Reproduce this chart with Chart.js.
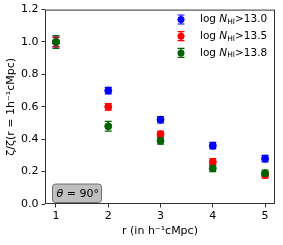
<!DOCTYPE html>
<html>
<head>
<meta charset="utf-8">
<script src="https://cdn.jsdelivr.net/npm/chart.js@4"></script>
<style>
  html, body { margin: 0; padding: 0; background: #fff; }
  #wrap { width: 283px; height: 245px; }
</style>
</head>
<body>
<div id="wrap"><canvas id="chart" width="283" height="245"></canvas></div>
<script>
// separations r (h^-1 cMpc)
var rValues = [1, 2, 3, 4, 5];
var xTicks = [1, 2, 3, 4, 5];
var yTicks = [0.0, 0.2, 0.4, 0.6, 0.8, 1.0, 1.2];

var labels = ["13.0", "13.5", "13.8"];
var colors = ["#0000ff", "#ff0000", "#006400"];

var zeta130 = [1.00, 0.70, 0.52, 0.36, 0.28];
var err130 = [0.03, 0.02, 0.02, 0.02, 0.02];
var zeta135 = [1.00, 0.60, 0.43, 0.26, 0.18];
var err135 = [0.03, 0.02, 0.02, 0.02, 0.02];
var zeta138 = [1.00, 0.48, 0.39, 0.22, 0.19];
var err138 = [0.04, 0.03, 0.02, 0.02, 0.02];

var series = [zeta130, zeta135, zeta138];
var errors = [err130, err135, err138];

var FONT = "DejaVu Sans";
var AXIS = "#333";

function points(vals) {
  return rValues.map(function (r, i) { return { x: r, y: vals[i] }; });
}

var datasets = series.map(function (vals, k) {
  return {
    label: "log N_HI>" + labels[k],
    data: points(vals),
    backgroundColor: colors[k],
    borderColor: colors[k],
    pointRadius: 3.5,
    pointHoverRadius: 3.5,
    showLine: false,
    order: series.length - k  // later series drawn on top
  };
});

// error bars, drawn through the scales
var errorBars = {
  id: "errorBars",
  beforeDatasetsDraw: function (chart) {
    var ctx = chart.ctx, xs = chart.scales.x, ys = chart.scales.y;
    ctx.save();
    ctx.lineWidth = 1.2;
    series.forEach(function (vals, k) {
      ctx.strokeStyle = colors[k];
      vals.forEach(function (v, i) {
        var px = xs.getPixelForValue(rValues[i]);
        var top = ys.getPixelForValue(v + errors[k][i]);
        var bot = ys.getPixelForValue(v - errors[k][i]);
        ctx.beginPath();
        ctx.moveTo(px, top); ctx.lineTo(px, bot);
        ctx.moveTo(px - 3.5, top); ctx.lineTo(px + 3.5, top);
        ctx.moveTo(px - 3.5, bot); ctx.lineTo(px + 3.5, bot);
        ctx.stroke();
      });
    });
    ctx.restore();
  },
  afterDraw: function (chart) {
    var ctx = chart.ctx, a = chart.chartArea;
    ctx.save();
    // frame
    ctx.strokeStyle = AXIS;
    ctx.lineWidth = 1;
    ctx.strokeRect(a.left + 0.5, a.top + 0.5, a.right - a.left - 1, a.bottom - a.top - 1);

    // legend
    ctx.textBaseline = "middle";
    labels.forEach(function (lab, k) {
      var y = 19.5 + k * 16.7, x = 181;
      ctx.strokeStyle = colors[k];
      ctx.fillStyle = colors[k];
      ctx.lineWidth = 1.2;
      ctx.beginPath();
      ctx.moveTo(x, y - 4.5); ctx.lineTo(x, y + 4.5);
      ctx.moveTo(x - 3.5, y - 4.5); ctx.lineTo(x + 3.5, y - 4.5);
      ctx.moveTo(x - 3.5, y + 4.5); ctx.lineTo(x + 3.5, y + 4.5);
      ctx.stroke();
      ctx.beginPath();
      ctx.arc(x, y, 3.5, 0, Math.PI * 2);
      ctx.fill();

      ctx.fillStyle = "#000";
      var tx = 200;
      ctx.font = "10.5px " + FONT;
      ctx.fillText("log ", tx, y);
      tx += ctx.measureText("log ").width;
      ctx.font = "italic 10.5px " + FONT;
      ctx.fillText("N", tx, y);
      tx += ctx.measureText("N").width;
      ctx.font = "7.5px " + FONT;
      ctx.fillText("HI", tx, y + 2.5);
      tx += ctx.measureText("HI").width;
      ctx.font = "10.5px " + FONT;
      ctx.fillText(">" + lab, tx, y);
    });

    // theta box
    var bx = 52.5, by = 184, bw = 49, bh = 18.5, r = 3;
    ctx.beginPath();
    ctx.moveTo(bx + r, by);
    ctx.arcTo(bx + bw, by, bx + bw, by + bh, r);
    ctx.arcTo(bx + bw, by + bh, bx, by + bh, r);
    ctx.arcTo(bx, by + bh, bx, by, r);
    ctx.arcTo(bx, by, bx + bw, by, r);
    ctx.closePath();
    ctx.fillStyle = "#bfbfbf";
    ctx.fill();
    ctx.strokeStyle = "#555";
    ctx.lineWidth = 0.8;
    ctx.stroke();
    ctx.fillStyle = "#000";
    ctx.textBaseline = "middle";
    ctx.font = "italic 11px " + FONT;
    ctx.fillText("θ", bx + 4, by + bh / 2 + 0.5);
    var w = ctx.measureText("θ").width;
    ctx.font = "11px " + FONT;
    ctx.fillText(" = 90°", bx + 4 + w, by + bh / 2 + 0.5);
    ctx.restore();
  }
};

new Chart(document.getElementById("chart").getContext("2d"), {
  type: "scatter",
  data: { datasets: datasets },
  options: {
    responsive: false,
    animation: false,
    events: [],
    layout: { padding: { top: 5, right: 8, left: 0, bottom: 0 } },
    plugins: { legend: { display: false }, tooltip: { enabled: false } },
    scales: {
      x: {
        type: "linear",
        min: 0.79,
        max: 5.19,
        afterBuildTicks: function (s) { s.ticks = xTicks.map(function (v) { return { value: v }; }); },
        afterFit: function (s) { s.height = 41; },
        grid: { drawOnChartArea: false, drawTicks: true, tickLength: 3.5, color: AXIS, lineWidth: 1 },
        border: { display: false },
        ticks: { color: "#000", font: { family: FONT, size: 11 }, padding: 2, maxRotation: 0 },
        title: { display: true, text: "r (in h⁻¹cMpc)", color: "#000", font: { family: FONT, size: 11 }, padding: { top: 1, bottom: 7 } }
      },
      y: {
        min: 0,
        max: 1.2,
        afterBuildTicks: function (s) { s.ticks = yTicks.map(function (v) { return { value: v }; }); },
        afterFit: function (s) { s.width = 45; },
        grid: { drawOnChartArea: false, drawTicks: true, tickLength: 3.5, color: AXIS, lineWidth: 1 },
        border: { display: false },
        ticks: { color: "#000", font: { family: FONT, size: 11 }, padding: 3,
          callback: function (v) { return v.toFixed(1); } },
        title: { display: true, text: "ζ/ζ(r = 1h⁻¹cMpc)", color: "#000", font: { family: FONT, size: 11 }, padding: { top: 5, bottom: 1 } }
      }
    }
  },
  plugins: [errorBars]
});
</script>
</body>
</html>
